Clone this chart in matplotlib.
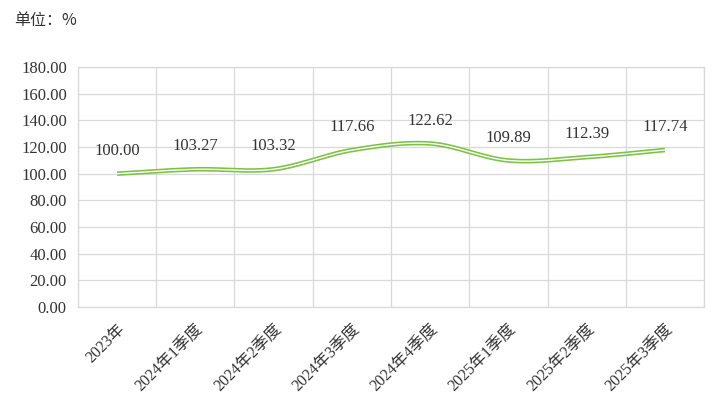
import numpy as np
import matplotlib
matplotlib.use("Agg")
import matplotlib.pyplot as plt
from matplotlib.transforms import ScaledTranslation

plt.rcParams['font.family'] = ['Liberation Serif', 'Noto Sans CJK SC', 'DejaVu Sans']

categories = ["2023年", "2024年1季度", "2024年2季度", "2024年3季度",
              "2024年4季度", "2025年1季度", "2025年2季度", "2025年3季度"]
values = [100.00, 103.27, 103.32, 117.66, 122.62, 109.89, 112.39, 117.74]
y_ticks = [0, 20, 40, 60, 80, 100, 120, 140, 160, 180]

GREEN = "#7cc243"
GRID = "#d9d9d9"
TEXT = "#333333"


def smooth(xs, ys, n=30):
    # catmull-rom spline through the points, like excel's smoothed line
    px = np.concatenate([[2 * xs[0] - xs[1]], xs, [2 * xs[-1] - xs[-2]]])
    py = np.concatenate([[2 * ys[0] - ys[1]], ys, [2 * ys[-1] - ys[-2]]])
    out_x, out_y = [], []
    t = np.linspace(0, 1, n)
    for i in range(1, len(px) - 2):
        for p, out in ((px, out_x), (py, out_y)):
            p0, p1, p2, p3 = p[i - 1], p[i], p[i + 1], p[i + 2]
            out.extend(0.5 * ((2 * p1) + (-p0 + p2) * t
                              + (2 * p0 - 5 * p1 + 4 * p2 - p3) * t ** 2
                              + (-p0 + 3 * p1 - 3 * p2 + p3) * t ** 3))
    return np.array(out_x), np.array(out_y)


fig = plt.figure(figsize=(7.2, 4.07), dpi=100)
ax = fig.add_axes([0.1083, 0.2457, 0.8695, 0.5897])

x = np.arange(len(categories))
sx, sy = smooth(x.astype(float), np.array(values))
ax.plot(sx, sy, color=GREEN, lw=3.3, solid_capstyle='butt', zorder=3)
ax.plot(sx, sy, color="white", lw=1.0, solid_capstyle='butt', zorder=4)

for xi, v in zip(x, values):
    ax.annotate(f"{v:.2f}", (xi, v), xytext=(0, 16.5), textcoords="offset points",
                ha="center", va="center", fontsize=12, color=TEXT)

ax.set_xlim(-0.5, len(categories) - 0.5)
ax.set_ylim(0, 180)
ax.set_yticks(y_ticks)
ax.set_yticklabels([f"{t:.2f}" for t in y_ticks], fontsize=12, color=TEXT)
ax.set_xticks(x)
ax.set_xticklabels(categories, fontsize=11.5, color=TEXT, rotation=45,
                   ha="right", va="top", rotation_mode="anchor")
ax.set_xticks(np.arange(len(categories) + 1) - 0.5, minor=True)
shift = ScaledTranslation(10 / 100, 0, fig.dpi_scale_trans)
for lab in ax.get_xticklabels():
    lab.set_transform(lab.get_transform() + shift)

ax.tick_params(axis="both", which="both", length=0)
ax.tick_params(axis="y", pad=8)
ax.tick_params(axis="x", pad=10)
ax.grid(axis="y", which="major", color=GRID, lw=0.9)
ax.grid(axis="x", which="minor", color=GRID, lw=0.9)
ax.set_axisbelow(True)
for s in ax.spines.values():
    s.set_color(GRID)
    s.set_linewidth(0.9)

fig.text(14 / 720, 1 - 20 / 407, "单位：%", fontsize=11.5, color=TEXT,
         ha="left", va="center", family=['Noto Sans CJK SC', 'DejaVu Sans'])

fig.savefig("out.png", dpi=100)
